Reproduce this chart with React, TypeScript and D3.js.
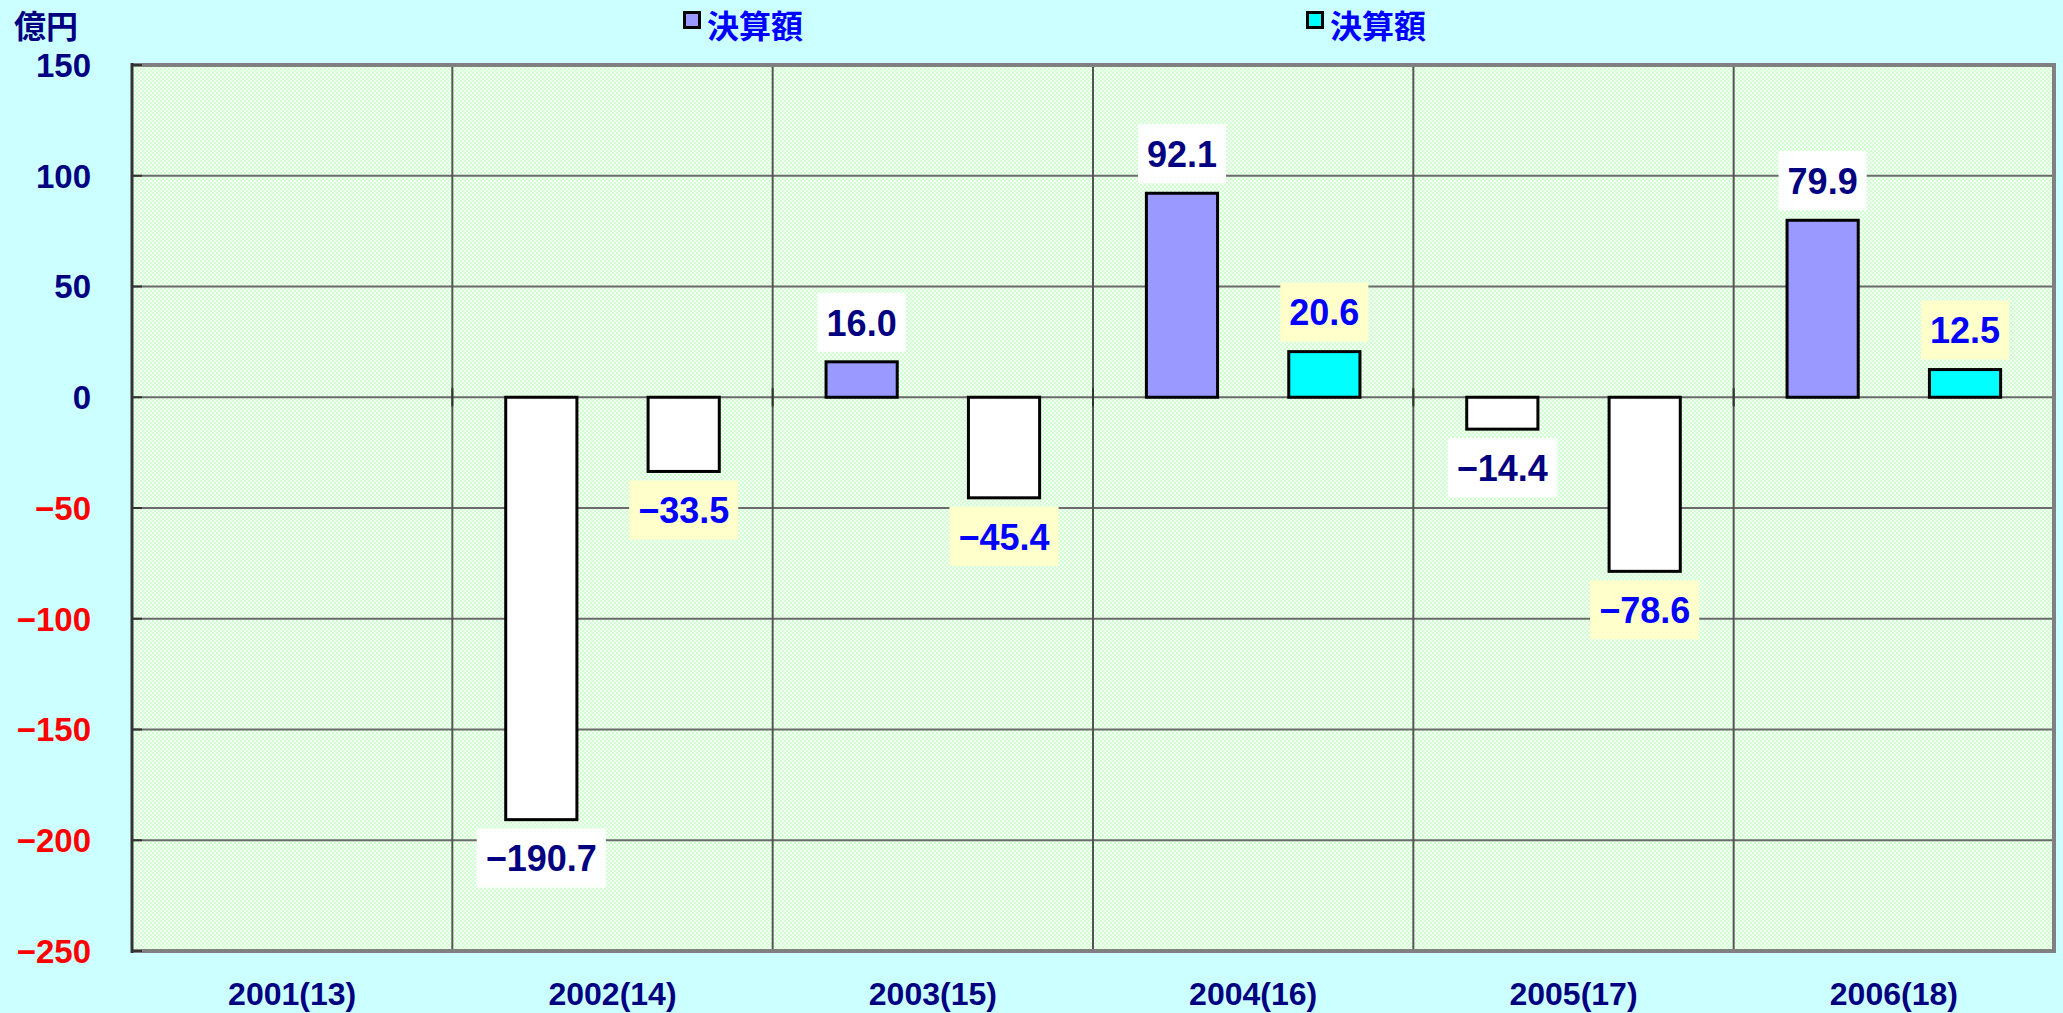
import React, { useEffect, useRef } from 'react';
import * as d3 from 'd3';

const categories = ['2001(13)', '2002(14)', '2003(15)', '2004(16)', '2005(17)', '2006(18)'];
const series1 = [null, -190.7, 16.0, 92.1, -14.4, 79.9];
const series2 = [null, -33.5, -45.4, 20.6, -78.6, 12.5];
const seriesNames = ['決算額', '決算額'];
const yTicks = [150, 100, 50, 0, -50, -100, -150, -200, -250];
const unitLabel = '億円';

const W = 2063;
const H = 1013;
const LATIN = '"Liberation Sans", Arial, sans-serif';
const CJK = '"Noto Sans CJK JP", sans-serif';

export default function App() {
  const ref = useRef<SVGSVGElement>(null);

  useEffect(() => {
    const svg = d3.select(ref.current);
    svg.selectAll('*').remove();

    const left = 132, right = 2054, top = 65, bottom = 951;

    const defs = svg.append('defs');
    const pat = defs.append('pattern').attr('id', 'chk').attr('patternUnits', 'userSpaceOnUse')
      .attr('width', 4).attr('height', 4);
    pat.append('rect').attr('width', 4).attr('height', 4).attr('fill', '#F4FFF4');
    pat.append('rect').attr('x', 0).attr('y', 0).attr('width', 2).attr('height', 2).attr('fill', '#D2FFD2');
    pat.append('rect').attr('x', 2).attr('y', 2).attr('width', 2).attr('height', 2).attr('fill', '#D2FFD2');

    svg.append('rect').attr('width', W).attr('height', H).attr('fill', '#CCFFFF');

    const y = d3.scaleLinear().domain([-250, 150]).range([bottom, top]);
    const x = d3.scaleBand<string>().domain(categories).range([left, right]).padding(0);
    const sub = d3.scaleBand<string>().domain(['s1', 's2']).range([0, x.bandwidth()])
      .paddingInner(0.5).paddingOuter(0.375);

    svg.append('rect').attr('x', left).attr('y', top).attr('width', right - left)
      .attr('height', bottom - top).attr('fill', 'url(#chk)');

    // horizontal gridlines
    svg.append('g').selectAll('line').data(yTicks).join('line')
      .attr('x1', left).attr('x2', right)
      .attr('y1', d => y(d)).attr('y2', d => y(d))
      .attr('stroke', '#6A6A6A').attr('stroke-width', 2);

    // vertical category dividers
    svg.append('g').selectAll('line').data(categories.slice(1)).join('line')
      .attr('x1', d => x(d)!).attr('x2', d => x(d)!)
      .attr('y1', top).attr('y2', bottom)
      .attr('stroke', '#555').attr('stroke-width', 2);

    // category axis ticks at zero
    const bounds = categories.map(c => x(c)!).concat([right]);
    svg.append('g').selectAll('line').data(bounds).join('line')
      .attr('x1', d => d).attr('x2', d => d)
      .attr('y1', y(0) - 9).attr('y2', y(0) + 9)
      .attr('stroke', '#333').attr('stroke-width', 2);

    // border
    svg.append('line').attr('x1', left).attr('x2', right).attr('y1', top).attr('y2', top)
      .attr('stroke', '#808080').attr('stroke-width', 4);
    svg.append('line').attr('x1', right).attr('x2', right).attr('y1', top - 2).attr('y2', bottom + 2)
      .attr('stroke', '#808080').attr('stroke-width', 4);
    svg.append('line').attr('x1', left).attr('x2', right).attr('y1', bottom).attr('y2', bottom)
      .attr('stroke', '#808080').attr('stroke-width', 4);
    svg.append('line').attr('x1', left).attr('x2', left).attr('y1', top - 2).attr('y2', bottom + 2)
      .attr('stroke', '#333').attr('stroke-width', 3);
    // left axis ticks inward
    svg.append('g').selectAll('line').data(yTicks).join('line')
      .attr('x1', left).attr('x2', left + 10)
      .attr('y1', d => y(d)).attr('y2', d => y(d))
      .attr('stroke', '#333').attr('stroke-width', 2);

    // y tick labels
    svg.append('g').selectAll('text').data(yTicks).join('text')
      .attr('x', 91).attr('y', d => y(d)).attr('dy', '0.36em')
      .attr('text-anchor', 'end')
      .attr('font-family', LATIN).attr('font-weight', 'bold').attr('font-size', 33)
      .attr('fill', d => (d < 0 ? '#FF0000' : '#000080'))
      .text(d => String(d).replace('-', '−'));

    // unit label
    svg.append('text').attr('x', 14).attr('y', 38)
      .attr('font-family', CJK).attr('font-weight', 'bold').attr('font-size', 32)
      .attr('fill', '#000080').text(unitLabel);

    // x labels
    svg.append('g').selectAll('text').data(categories).join('text')
      .attr('x', d => x(d)! + x.bandwidth() / 2).attr('y', 1005)
      .attr('text-anchor', 'middle')
      .attr('font-family', LATIN).attr('font-weight', 'bold').attr('font-size', 32)
      .attr('fill', '#000080').text(d => d);

    const series = [
      { key: 's1', values: series1, fill: '#9999FF', textColor: '#000080', boxColor: '#FFFFFF' },
      { key: 's2', values: series2, fill: '#00FFFF', textColor: '#0000FF', boxColor: '#FFFFCC' },
    ];
    const fmt = d3.format('.1f');

    series.forEach(s => {
      const data = categories.map((c, i) => ({ c, v: s.values[i] })).filter(d => d.v !== null) as { c: string; v: number }[];
      const g = svg.append('g');
      g.selectAll('rect').data(data).join('rect')
        .attr('x', d => x(d.c)! + sub(s.key)!)
        .attr('width', sub.bandwidth())
        .attr('y', d => y(Math.max(0, d.v)))
        .attr('height', d => Math.abs(y(d.v) - y(0)))
        .attr('fill', d => (d.v < 0 ? '#FFFFFF' : s.fill))
        .attr('stroke', '#000').attr('stroke-width', 3);
    });

    series.forEach(s => {
      const data = categories.map((c, i) => ({ c, v: s.values[i] })).filter(d => d.v !== null) as { c: string; v: number }[];
      data.forEach(d => {
        const cx = x(d.c)! + sub(s.key)! + sub.bandwidth() / 2;
        const boxH = 59;
        const boxTop = d.v >= 0 ? y(d.v) - 10 - boxH : y(d.v) + 9;
        const lg = svg.append('g');
        const rect = lg.append('rect');
        const t = lg.append('text')
          .attr('x', cx).attr('y', boxTop + boxH / 2).attr('dy', '0.37em')
          .attr('text-anchor', 'middle')
          .attr('font-family', LATIN).attr('font-weight', 'bold').attr('font-size', 36)
          .attr('fill', s.textColor)
          .text(fmt(d.v).replace('-', '−'));
        const w = (t.node() as SVGTextElement).getComputedTextLength();
        const bw = w + 18;
        rect.attr('x', cx - bw / 2).attr('y', boxTop).attr('width', bw).attr('height', boxH)
          .attr('fill', s.boxColor);
      });
    });

    // legend
    const legendX = [683, 1306];
    series.forEach((s, i) => {
      const lx = legendX[i];
      svg.append('rect').attr('x', lx + 1.5).attr('y', 12.5).attr('width', 15).attr('height', 15)
        .attr('fill', s.fill).attr('stroke', '#000').attr('stroke-width', 3);
      svg.append('text').attr('x', lx + 24).attr('y', 37.5)
        .attr('font-family', CJK).attr('font-weight', 'bold').attr('font-size', 32)
        .attr('fill', '#0000FF').text(seriesNames[i]);
    });
  }, []);

  return (
    <svg ref={ref} width={W} height={H} style={{ position: 'absolute', left: 0, top: 0, display: 'block' }} />
  );
}
